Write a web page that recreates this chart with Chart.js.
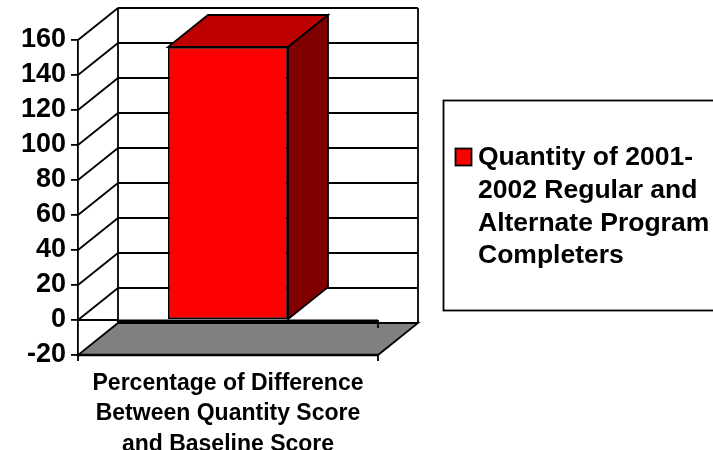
<!DOCTYPE html>
<html>
<head>
<meta charset="utf-8">
<title>Quantity of Program Completers</title>
<script src="https://cdn.jsdelivr.net/npm/chart.js@4/dist/chart.umd.min.js"></script>
<style>
  html, body { margin: 0; padding: 0; background: #fff; overflow: hidden; }
  canvas { display: block; }
</style>
</head>
<body>
<canvas id="myChart" width="713" height="450"></canvas>
<script>
const categories = [['Percentage of Difference', 'Between Quantity Score', 'and Baseline Score']];
const seriesName = 'Quantity of 2001-2002 Regular and Alternate Program Completers';
const seriesValues = [156];
const legendLines = ['Quantity of 2001-', '2002 Regular and', 'Alternate Program', 'Completers'];

const FONT = '"Liberation Sans", Arial, sans-serif';
const DEPTH_X = 40;
const DEPTH_Y = 32;
const LINE = 1.8;

// fake 3d box behind the flat chart: walls, floor and the sides of the bar
const box3d = {
  id: 'box3d',
  beforeDatasetsDraw(chart) {
    const { ctx, chartArea: a, scales: { y } } = chart;
    const bx = a.left + DEPTH_X, bxr = a.right + DEPTH_X;
    ctx.save();
    ctx.strokeStyle = '#000';
    ctx.lineWidth = LINE;

    // floor at the axis minimum
    poly(ctx, [[a.left, a.bottom], [a.right, a.bottom], [bxr, a.bottom - DEPTH_Y], [bx, a.bottom - DEPTH_Y]], '#808080');
    ctx.lineWidth = 2.5;
    line(ctx, a.left, a.bottom, a.right, a.bottom);
    ctx.lineWidth = LINE;

    // gridlines on side wall and back wall
    y.ticks.forEach(t => {
      const py = y.getPixelForValue(t.value);
      if (t.value > y.min) line(ctx, a.left, py, bx, py - DEPTH_Y);
      line(ctx, bx, py - DEPTH_Y, bxr, py - DEPTH_Y);
    });
    line(ctx, bx, a.top - DEPTH_Y, bx, a.bottom - DEPTH_Y);
    line(ctx, bxr, a.top - DEPTH_Y, bxr, a.bottom - DEPTH_Y);

    // bar top and side
    chart.getDatasetMeta(0).data.forEach(bar => {
      const l = bar.x - bar.width / 2, r = bar.x + bar.width / 2;
      poly(ctx, [[l, bar.y], [r, bar.y], [r + DEPTH_X, bar.y - DEPTH_Y], [l + DEPTH_X, bar.y - DEPTH_Y]], '#bf0000');
      poly(ctx, [[r, bar.y], [r + DEPTH_X, bar.y - DEPTH_Y], [r + DEPTH_X, bar.base - DEPTH_Y], [r, bar.base]], '#800000');
    });
    ctx.restore();
  },
  afterDatasetsDraw(chart) {
    const { ctx, chartArea: a, scales: { y } } = chart;
    const zero = y.getPixelForValue(0);
    ctx.save();
    ctx.strokeStyle = '#000';
    ctx.lineWidth = LINE;
    line(ctx, a.left, zero, a.left + DEPTH_X, zero);
    ctx.lineWidth = 3;
    line(ctx, a.left + DEPTH_X, zero + 1, a.right, zero + 1);
    ctx.lineWidth = LINE;
    line(ctx, a.right, zero, a.right, zero + 8);
    line(ctx, a.right, a.bottom, a.right, a.bottom + 6);
    line(ctx, a.left, a.bottom, a.left, a.bottom + 6);
    ctx.restore();
  }
};

// legend text has to wrap, the built in one does not do that
const wrappedLegend = {
  id: 'wrappedLegend',
  afterDraw(chart) {
    const { ctx } = chart;
    ctx.save();
    ctx.strokeStyle = '#000';
    ctx.lineWidth = LINE;
    ctx.strokeRect(443.5, 100.5, 300, 210);
    ctx.fillStyle = '#ff0000';
    ctx.fillRect(455.5, 148.5, 16, 17);
    ctx.strokeRect(455.5, 148.5, 16, 17);
    ctx.fillStyle = '#000';
    ctx.font = 'bold 26.5px ' + FONT;
    ctx.textBaseline = 'middle';
    legendLines.forEach((text, i) => ctx.fillText(text, 478, 158 + i * 32.7));
    ctx.restore();
  }
};

function line(ctx, x1, y1, x2, y2) {
  ctx.beginPath();
  ctx.moveTo(x1, y1);
  ctx.lineTo(x2, y2);
  ctx.stroke();
}

function poly(ctx, pts, fill) {
  ctx.beginPath();
  pts.forEach((p, i) => (i ? ctx.lineTo(p[0], p[1]) : ctx.moveTo(p[0], p[1])));
  ctx.closePath();
  ctx.fillStyle = fill;
  ctx.fill();
  ctx.stroke();
}

new Chart(document.getElementById('myChart').getContext('2d'), {
  type: 'bar',
  data: {
    labels: categories,
    datasets: [{
      label: seriesName,
      data: seriesValues,
      backgroundColor: '#ff0000',
      borderColor: '#000',
      borderWidth: 1.8,
      borderSkipped: false,
      barPercentage: 1,
      categoryPercentage: 0.4
    }]
  },
  plugins: [box3d, wrappedLegend],
  options: {
    responsive: false,
    animation: false,
    layout: { padding: { top: 40, right: 335, left: 0, bottom: 0 } },
    plugins: {
      legend: { display: false },
      tooltip: { enabled: false }
    },
    scales: {
      x: {
        grid: { display: false },
        border: { display: false },
        ticks: {
          color: '#000',
          maxRotation: 0,
          padding: 5,
          font: { family: FONT, size: 23, weight: 'bold', lineHeight: 1.33 }
        },
        afterFit(scale) { scale.height = 95; }
      },
      y: {
        min: -20,
        max: 160,
        grid: { drawOnChartArea: false, color: '#000', lineWidth: LINE, tickLength: 7 },
        border: { color: '#000', width: LINE },
        ticks: {
          stepSize: 20,
          color: '#000',
          padding: 5,
          autoSkip: false,
          font: { family: FONT, size: 27, weight: 'bold' }
        },
        afterFit(scale) { scale.width = 78; }
      }
    }
  }
});
</script>
</body>
</html>
